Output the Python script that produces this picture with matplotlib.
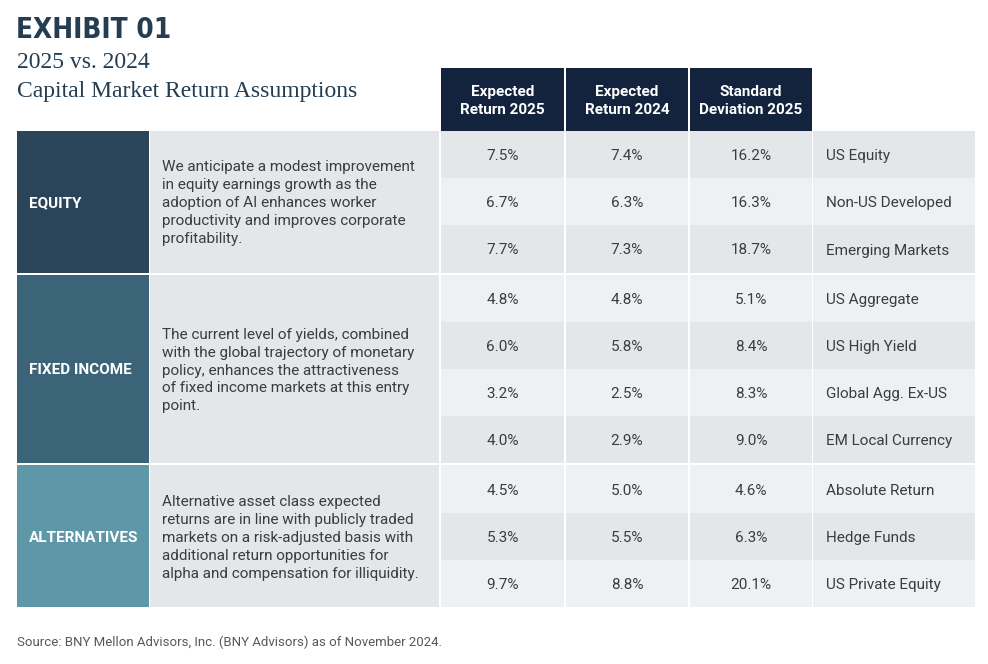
import matplotlib
matplotlib.use("Agg")
import matplotlib.pyplot as plt
from matplotlib.patches import Rectangle

# table data
groups = ["EQUITY", "FIXED INCOME", "ALTERNATIVES"]
group_sizes = [3, 4, 3]
group_colors = ["#2a4459", "#3b6479", "#5e97a8"]
descriptions = [
    "We anticipate a modest improvement\nin equity earnings growth as the\nadoption of AI enhances worker\nproductivity and improves corporate\nprofitability.",
    "The current level of yields, combined\nwith the global trajectory of monetary\npolicy, enhances the attractiveness\nof fixed income markets at this entry\npoint.",
    "Alternative asset class expected\nreturns are in line with publicly traded\nmarkets on a risk-adjusted basis with\nadditional return opportunities for\nalpha and compensation for illiquidity.",
]
headers = ["Expected\nReturn 2025", "Expected\nReturn 2024", "Standard\nDeviation 2025"]
assets = ["US Equity", "Non-US Developed", "Emerging Markets",
          "US Aggregate", "US High Yield", "Global Agg. Ex-US", "EM Local Currency",
          "Absolute Return", "Hedge Funds", "US Private Equity"]
ret_2025 = [7.5, 6.7, 7.7, 4.8, 6.0, 3.2, 4.0, 4.5, 5.3, 9.7]
ret_2024 = [7.4, 6.3, 7.3, 4.8, 5.8, 2.5, 2.9, 5.0, 5.5, 8.8]
std_2025 = [16.2, 16.3, 18.7, 5.1, 8.4, 8.3, 9.0, 4.6, 6.3, 20.1]

title_color = "#243d52"
text_color = "#3a3d40"
navy = "#13233d"
dark_row = "#e3e7ea"
light_row = "#eef1f3"

fig = plt.figure(figsize=(9.88, 6.64), dpi=100)
ax = fig.add_axes([0, 0, 1, 1])
ax.set_xlim(0, 988)
ax.set_ylim(664, 0)
ax.axis("off")

sans = ["Roboto", "DejaVu Sans"]
serif = ["Liberation Serif", "DejaVu Serif"]

# titles
ax.text(16, 38, "EXHIBIT 01", fontsize=20, fontweight="heavy", fontstretch="condensed",
        family=["DejaVu Sans"], color=title_color, va="baseline")
ax.text(17, 68, "2025 vs. 2024", fontsize=17, family=serif,
        color=title_color, va="baseline")
ax.text(17, 97, "Capital Market Return Assumptions", fontsize=17,
        family=serif, color=title_color, va="baseline")

# column edges
val_cols = [(441, 564), (566, 688), (690, 812)]
name_col = (813, 975)
cat_col = (17, 149)
desc_col = (150, 439)

# header
for (x0, x1), h in zip(val_cols, headers):
    ax.add_patch(Rectangle((x0, 68), x1 - x0, 63, color=navy, lw=0))
    ax.text((x0 + x1) / 2, 101, h, ha="center", va="center", color="white",
            fontsize=11, fontweight="bold", family=sans, linespacing=1.4)

row_h = 47.2
gap = 2
y = 131
row = 0
for g, n in enumerate(group_sizes):
    gy0 = y
    gh = n * row_h
    ax.add_patch(Rectangle((cat_col[0], gy0), cat_col[1] - cat_col[0], gh,
                           color=group_colors[g], lw=0))
    ax.add_patch(Rectangle((desc_col[0], gy0), desc_col[1] - desc_col[0], gh,
                           color=dark_row, lw=0))
    ax.text(29, gy0 + gh / 2 + 1.5, groups[g], ha="left", va="center", color="white",
            fontsize=11, fontweight="bold", family=sans)
    ax.text(162, gy0 + gh / 2 + 1.5, descriptions[g], ha="left", va="center",
            color=text_color, fontsize=11, family=sans, linespacing=1.36)
    for k in range(n):
        ry = gy0 + k * row_h
        c = dark_row if row % 2 == 0 else light_row
        for (x0, x1) in val_cols + [name_col]:
            ax.add_patch(Rectangle((x0, ry), x1 - x0, row_h, color=c, lw=0))
        cy = ry + row_h / 2 + 1.5
        for (x0, x1), v in zip(val_cols, [ret_2025[row], ret_2024[row], std_2025[row]]):
            ax.text((x0 + x1) / 2, cy, f"{v:.1f}%", ha="center", va="center",
                    color=text_color, fontsize=11, family=sans)
        ax.text(826, cy, assets[row], ha="left", va="center", color=text_color,
                fontsize=11, family=sans)
        row += 1
    y = gy0 + gh + gap

ax.text(17, 642, "Source: BNY Mellon Advisors, Inc. (BNY Advisors) as of November 2024.",
        ha="left", va="center", color="#55595c", fontsize=9.5, family=sans)

fig.savefig("out.png", dpi=100)
